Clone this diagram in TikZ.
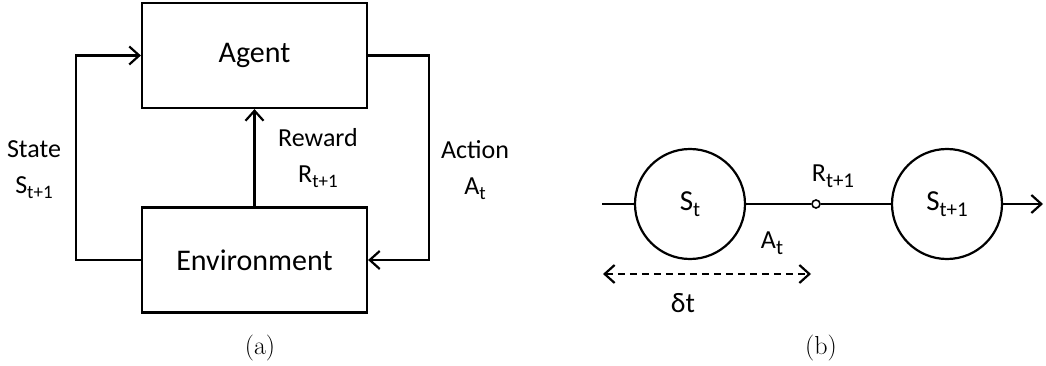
\documentclass[tikz,border=0pt]{standalone}
\usepackage{fontspec}
\setmainfont{Carlito}
\newfontfamily\capfont{Latin Modern Roman}
\usetikzlibrary{arrows.meta}
\newcommand{\lsub}[1]{\raisebox{-5pt}{\fontsize{19}{20}\selectfont #1}}
\newcommand{\csub}[1]{\raisebox{-6pt}{\fontsize{21}{22}\selectfont #1}}
\tikzset{
  box/.style={draw, line width=2.2pt, minimum width=225pt, minimum height=105pt, font=\fontsize{30}{36}\selectfont, inner sep=0pt},
  lbl/.style={font=\fontsize{26}{36}\selectfont, align=center, inner sep=0pt},
  st/.style={draw, circle, line width=2.2pt, minimum size=110pt, inner sep=0pt, font=\fontsize{29}{34}\selectfont},
  conn/.style={line width=2.2pt},
  tip/.style={-{Straight Barb[length=10pt,width=18pt,line width=2.2pt]}},
  captext/.style={font=\capfont\fontsize{26}{30}\selectfont, inner sep=0pt}
}
\begin{document}
\begin{tikzpicture}[x=1pt,y=-1pt]
\useasboundingbox (0,0) rectangle (1046,366);
% (a)
\node[box] (agent) at (254.5,55.5) {Agent};
\node[box] (env) at (254.5,260) {Environment};
\draw[conn,tip] (env.west) -- ++(-65,0) |- (agent.west);
\draw[conn,tip] (agent.east) -- ++(61,0) |- (env.east);
\draw[conn,tip] (env.north) -- (agent.south);
\node[lbl] (state) at (34,170) {State\\S\lsub{t+1}};
\node[lbl] (reward) at (318,158) {Reward\\R\lsub{t+1}};
\node[lbl] (action) at (475,170) {Action\\A\lsub{t}};
\node[captext] (capa) at (260,348) {(a)};
% (b)
\coordinate (lstart) at (602,204);
\node[st] (s0) at (690,204) {S\csub{t}};
\node[draw, circle, line width=1.6pt, minimum size=8pt, inner sep=0pt, fill=white] (dot) at (816,204) {};
\node[st] (s1) at (947,204) {S\csub{t+1}};
\coordinate (rend) at (1043,204);
\draw[conn] (lstart) -- (s0);
\draw[conn] (s0) -- (dot);
\draw[conn] (dot) -- (s1);
\draw[conn,tip] (s1) -- (rend);
\node[lbl] (rl) at (833,176) {R\csub{t+1}};
\node[lbl] (al) at (772,243) {A\csub{t}};
\coordinate (d1) at (603,274);
\coordinate (d2) at (811,274);
\draw[conn, dash pattern=on 7pt off 5pt, {Straight Barb[length=10pt,width=18pt,line width=2.2pt]}-{Straight Barb[length=10pt,width=18pt,line width=2.2pt]}] (d1) -- (d2);
\node[lbl, font=\fontsize{28}{34}\selectfont] (dt) at (683,303) {δt};
\node[captext] (capb) at (821,348) {(b)};
\end{tikzpicture}
\end{document}
